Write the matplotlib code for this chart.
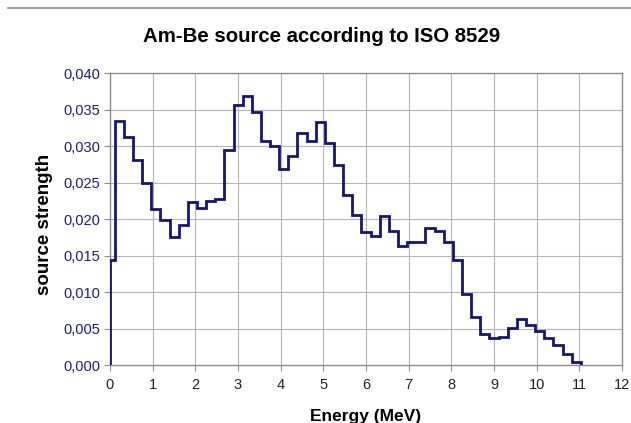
import numpy as np
import matplotlib
matplotlib.use('Agg')
import matplotlib.pyplot as plt
from matplotlib.ticker import FuncFormatter
from matplotlib.lines import Line2D

plt.rcParams['font.family'] = ['Liberation Sans', 'DejaVu Sans']

# group edges (MeV) and source strength per group
edges = [0.0, 0.11, 0.33, 0.54, 0.75, 0.97, 1.18, 1.40, 1.61, 1.82, 2.04, 2.25,
         2.47, 2.68, 2.90, 3.11, 3.32, 3.54, 3.75, 3.97, 4.18, 4.39, 4.61, 4.82,
         5.04, 5.25, 5.47, 5.68, 5.89, 6.11, 6.32, 6.54, 6.75, 6.96, 7.18, 7.39,
         7.61, 7.82, 8.03, 8.25, 8.46, 8.68, 8.89, 9.11, 9.32, 9.54, 9.75, 9.96,
         10.18, 10.39, 10.61, 10.82, 11.04]
strength = [0.0144, 0.0334, 0.0313, 0.0281, 0.0250, 0.0214, 0.0198, 0.0175,
            0.0192, 0.0223, 0.0215, 0.0225, 0.0228, 0.0295, 0.0356, 0.0369,
            0.0346, 0.0307, 0.0300, 0.0269, 0.0286, 0.0318, 0.0307, 0.0333,
            0.0304, 0.0274, 0.0233, 0.0206, 0.0182, 0.0177, 0.0204, 0.0183,
            0.0163, 0.0168, 0.0168, 0.0188, 0.0184, 0.0169, 0.0144, 0.00968,
            0.00652, 0.00426, 0.00367, 0.00381, 0.00506, 0.00625, 0.00552,
            0.00468, 0.00370, 0.00278, 0.00151, 0.00036]
xticks = list(range(0, 13))
yticks = [0.000, 0.005, 0.010, 0.015, 0.020, 0.025, 0.030, 0.035, 0.040]

fig = plt.figure(figsize=(6.31, 4.23), dpi=100)
ax = fig.add_axes([0.1743, 0.1371, 0.8114, 0.6903])

ax.stairs(strength, edges, baseline=0, color='#14147a', lw=2.0, zorder=3)

ax.set_xlim(0, 12)
ax.set_ylim(0, 0.040)
ax.set_xticks(xticks)
ax.set_yticks(yticks)
ax.yaxis.set_major_formatter(FuncFormatter(lambda v, p: f'{v:.3f}'.replace('.', ',')))
ax.grid(True, color='#b4b4b4', lw=0.8)
ax.set_axisbelow(True)
for s in ax.spines.values():
    s.set_color('#8c8c8c'); s.set_linewidth(1.0)
ax.tick_params(axis='y', colors='#8c8c8c', labelcolor='#1c1c80', labelsize=10.5, length=4, pad=3)
ax.tick_params(axis='x', colors='#8c8c8c', labelcolor='#222222', labelsize=10.5, length=4, pad=5)

fig.text(0.07, 0.47, 'source strength', ha='center', va='center', rotation=90,
         fontsize=13.5, fontweight='bold')
fig.text(0.58, 0.015, 'Energy (MeV)', ha='center', va='center', fontsize=12.5, fontweight='bold')
fig.text(0.51, 0.914, 'Am-Be source according to ISO 8529', ha='center', va='center',
         fontsize=14.7, fontweight='bold')

fig.add_artist(Line2D([8/631, 1.0], [1 - 8/423, 1 - 8/423], transform=fig.transFigure,
                      color='#8c8c8c', lw=1.2))

fig.savefig('out.png', dpi=100)
